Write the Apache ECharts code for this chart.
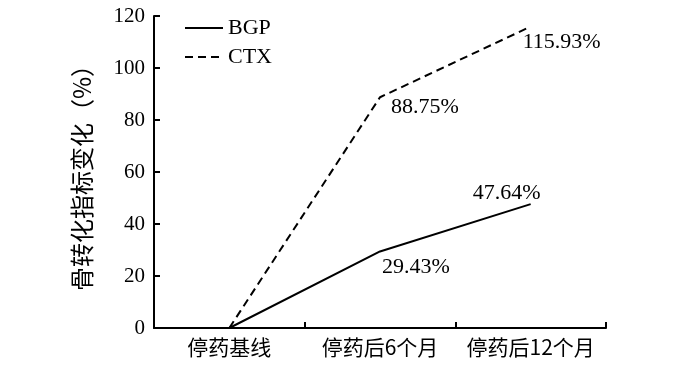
<!DOCTYPE html>
<html>
<head>
<meta charset="utf-8">
<script src="https://cdn.jsdelivr.net/npm/echarts@6/dist/echarts.min.js"></script>
<style>html,body{margin:0;padding:0;background:#fff}#c{width:700px;height:366px}</style>
</head>
<body>
<div id="c"></div>
<script>
var categories = ['停药基线', '停药后6个月', '停药后12个月'];
var bgpValues = [0, 29.43, 47.64];
var ctxValues = [0, 88.75, 115.93];
var seriesNames = ['BGP', 'CTX'];
var yAxisName = '骨转化指标变化（%）';

var FONT = '"Liberation Serif", "Noto Sans CJK SC", serif';
var CJK = '"Noto Sans CJK SC", "Liberation Serif", sans-serif';

function labeled(vals, offsets) {
  return vals.map(function (v, i) {
    var o = offsets[i];
    if (!o) return { value: v, label: { show: false } };
    return {
      value: v,
      label: {
        show: true, position: 'inside', offset: o,
        formatter: function (p) { return p.value.toFixed(2) + '%'; },
        color: '#000', fontFamily: FONT, fontSize: 22
      }
    };
  });
}

var chart = echarts.init(document.getElementById('c'), null, { renderer: 'canvas' });
chart.setOption({
  animation: false,
  backgroundColor: '#fff',
  grid: { left: 154, right: 94, top: 16, bottom: 38, containLabel: false },
  legend: {
    orient: 'vertical', left: 179, top: 12, itemWidth: 38, itemHeight: 14, itemGap: 7,
    textStyle: { fontFamily: FONT, fontSize: 22, color: '#000', lineHeight: 22 },
    data: seriesNames
  },
  xAxis: {
    type: 'category', data: categories, boundaryGap: true,
    axisLine: { show: true, lineStyle: { color: '#000', width: 2 } },
    axisTick: { show: true, interval: 0, inside: false, length: -6, lineStyle: { color: '#000', width: 2 } },
    axisLabel: { show: true, interval: 0, color: '#000', fontFamily: CJK, fontSize: 21, margin: 9, hideOverlap: false },
    splitLine: { show: false }
  },
  yAxis: {
    type: 'value', min: 0, max: 120, interval: 20,
    name: yAxisName, nameLocation: 'middle', nameGap: 60,
    nameTextStyle: { color: '#000', fontFamily: CJK, fontSize: 24 },
    axisLine: { show: true, lineStyle: { color: '#000', width: 2 } },
    axisTick: { show: true, inside: false, length: -6, lineStyle: { color: '#000', width: 2 } },
    axisLabel: { color: '#000', fontFamily: FONT, fontSize: 21, margin: 9 },
    splitLine: { show: false }
  },
  series: [
    {
      name: seriesNames[0], type: 'line', data: labeled(bgpValues, [null, [36, 16], [-24, -11]]),
      symbol: 'circle', symbolSize: 1, itemStyle: { color: 'rgba(0,0,0,0)' },
      lineStyle: { color: '#000', width: 2, type: 'solid' }
    },
    {
      name: seriesNames[1], type: 'line', data: labeled(ctxValues, [null, [45, 10], [31, 16]]),
      symbol: 'circle', symbolSize: 1, itemStyle: { color: 'rgba(0,0,0,0)' },
      lineStyle: { color: '#000', width: 2, type: [8, 5] }
    }
  ]
});
</script>
</body>
</html>
